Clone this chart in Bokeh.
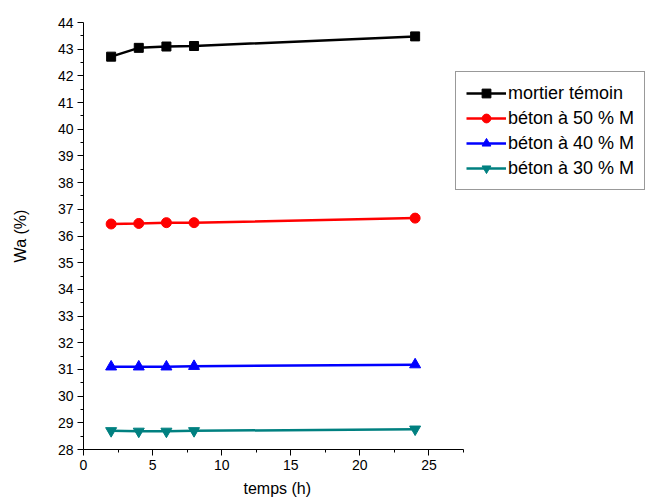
from bokeh.plotting import figure
from bokeh.models import Range1d, Legend, LegendItem, FixedTicker, Title
from bokeh.embed import file_html
from bokeh.resources import INLINE

temps = [2, 4, 6, 8, 24]
mortier_temoin = [42.72, 43.05, 43.10, 43.12, 43.48]
beton_50 = [36.45, 36.47, 36.50, 36.50, 36.67]
beton_40 = [31.10, 31.10, 31.10, 31.12, 31.18]
beton_30 = [28.70, 28.68, 28.68, 28.70, 28.76]
series_labels = ["mortier témoin", "béton à 50 % M", "béton à 40 % M", "béton à 30 % M"]
x_ticks = [0, 5, 10, 15, 20, 25]
y_ticks = list(range(28, 45))
x_axis_end = 27.5

FONT = "Liberation Sans"

# frame spans 83..646 px; the visible x axis covers 0..27.5 over 380 px
x_view_end = x_axis_end * (646 - 83) / 380.0

p = figure(width=646, height=504, output_backend="svg", toolbar_location=None,
           x_range=Range1d(0, x_view_end), y_range=Range1d(28, 44),
           min_border_left=83, min_border_right=0, min_border_top=22, min_border_bottom=55)
p.outline_line_color = None
p.xgrid.visible = False
p.ygrid.visible = False

for ax in (p.xaxis[0], p.yaxis[0]):
    ax.axis_line_color = "black"
    ax.major_tick_line_color = "black"
    ax.minor_tick_line_color = "black"
    ax.major_tick_out = 6
    ax.major_tick_in = 0
    ax.minor_tick_out = 3
    ax.minor_tick_in = 0
    ax.major_label_text_font = FONT
    ax.major_label_text_font_size = "14px"
    ax.major_label_text_color = "black"
    ax.axis_label_text_font = FONT
    ax.axis_label_text_font_size = "16px"
    ax.axis_label_text_font_style = "normal"
    ax.axis_label_text_color = "black"

p.xaxis.bounds = (0, x_axis_end)
p.xaxis.ticker = FixedTicker(ticks=x_ticks, minor_ticks=[2.5 + 5 * i for i in range(6)])
p.yaxis.ticker = FixedTicker(ticks=y_ticks, minor_ticks=[28.5 + i for i in range(16)])
p.yaxis.axis_label = "Wa (%)"
p.xaxis.major_label_standoff = 4
p.yaxis.major_label_standoff = 4
p.yaxis.axis_label_standoff = 26

# x axis title centred under the visible axis (0..27.5), not under the whole frame
xlabel = Title(text="temps (h)", align="left", offset=160, standoff=11,
               text_font=FONT, text_font_size="16px", text_font_style="normal",
               text_color="black")
p.add_layout(xlabel, "below")

items = []
specs = [
    (mortier_temoin, "black", "square", 9),
    (beton_50, "red", "circle", 10),
    (beton_40, "blue", "triangle", 11),
    (beton_30, "#008080", "inverted_triangle", 11),
]
for (vals, color, marker, size), label in zip(specs, series_labels):
    l = p.line(temps, vals, line_color=color, line_width=2.5)
    s = p.scatter(temps, vals, marker=marker, size=size, fill_color=color, line_color=color)
    items.append(LegendItem(label=label, renderers=[l, s]))

legend = Legend(items=items, location=(372, 259), orientation="vertical",
                label_text_font=FONT, label_text_font_size="18px", label_text_color="black",
                glyph_width=40, glyph_height=22, spacing=3, padding=10, margin=0,
                label_standoff=2, border_line_color="#333333", border_line_width=1,
                background_fill_alpha=1.0)
p.add_layout(legend, "center")

open("out.html", "w").write(file_html(p, INLINE))
